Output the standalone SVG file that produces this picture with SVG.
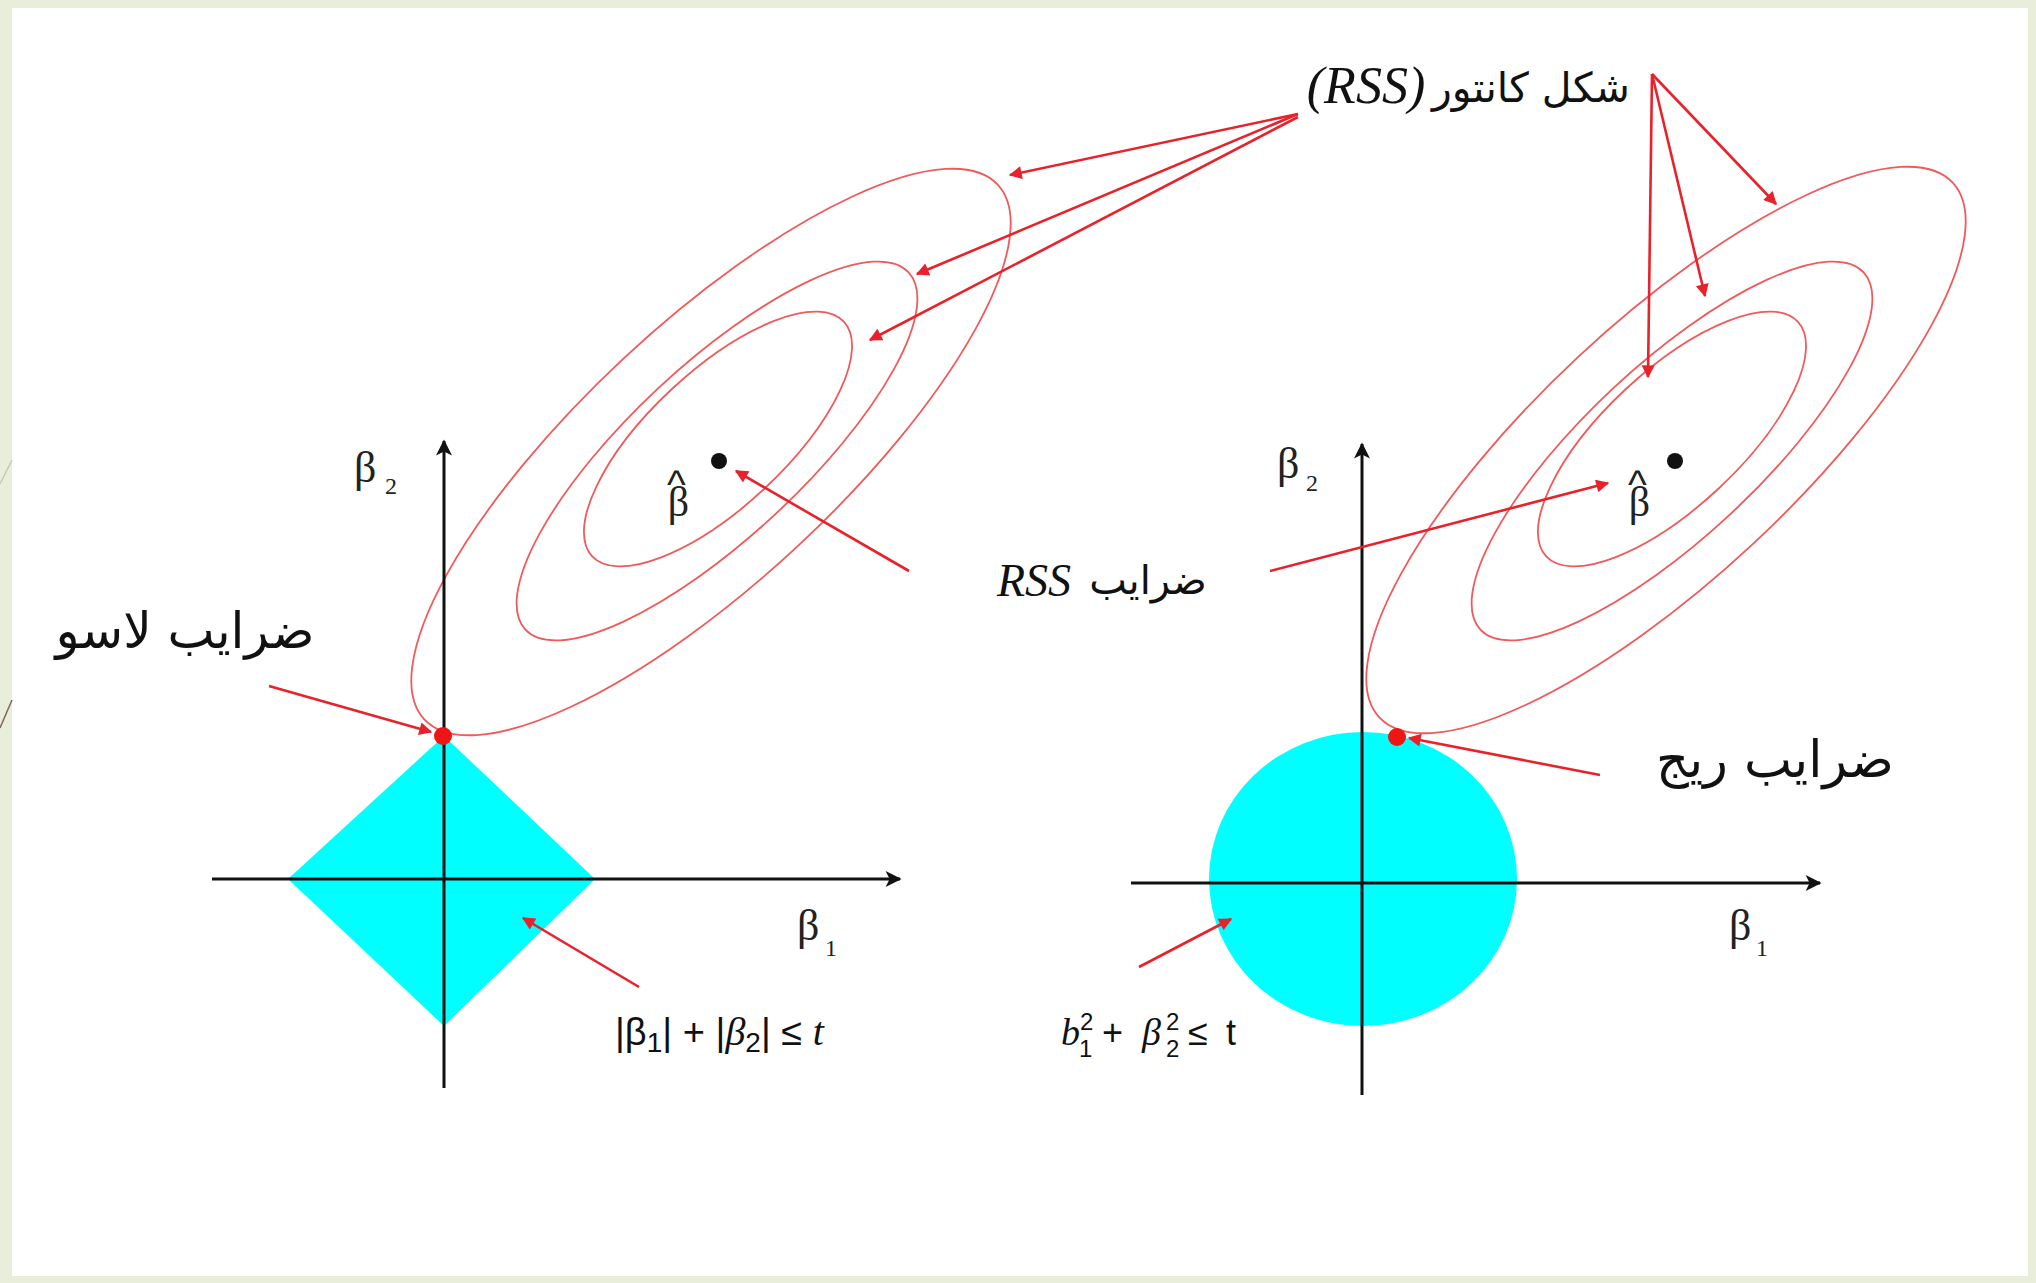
<svg xmlns="http://www.w3.org/2000/svg" width="2036" height="1283" viewBox="0 0 2036 1283">
<style>
.ell{fill:none;stroke:#f05a5a;stroke-width:1.8}
.ax{stroke:#111;stroke-width:3;fill:none}
.ar{stroke:#e8222a;stroke-width:2.6;fill:none}
.ara{font-family:"DejaVu Sans",sans-serif;fill:#111}
.mi{font-family:"Liberation Serif",serif;font-style:italic;fill:#111}
.bt{font-family:"Liberation Serif",serif;fill:#222}
.hat{font-family:"Liberation Sans",sans-serif}
.fm{font-family:"Liberation Sans",sans-serif;fill:#111}
</style>
<defs>
<marker id="ra" viewBox="0 0 10 10" refX="9" refY="5" markerWidth="20" markerHeight="13" markerUnits="userSpaceOnUse" orient="auto"><path d="M0,0 L10,5 L0,10 z" fill="#e8222a"/></marker>
<marker id="ka" viewBox="0 0 10 10" refX="9" refY="5" markerWidth="26" markerHeight="16" markerUnits="userSpaceOnUse" orient="auto"><path d="M0,0 L10,5 L0,10 L2.5,5 z" fill="#111"/></marker>
</defs>
<rect x="0" y="0" width="2036" height="1283" fill="#e9eedb"/>
<rect x="12" y="8" width="2016" height="1268" fill="#ffffff"/>
<line x1="0" y1="484" x2="12" y2="460" stroke="#c9c9b8" stroke-width="1.5"/>
<line x1="0" y1="728" x2="12" y2="700" stroke="#7d6c58" stroke-width="1.5"/>

<g id="lasso-region">
<polygon points="444,736 595,879 444,1026 288,879" fill="#00ffff"/>
</g>
<g id="ridge-region">
<ellipse cx="1363" cy="879" rx="154" ry="147" fill="#00ffff"/>
</g>

<g id="left-contours">
<ellipse class="ell" cx="711" cy="452" rx="392" ry="128" transform="rotate(-43 711 452)"/>
<ellipse class="ell" cx="717" cy="451" rx="262" ry="86" transform="rotate(-43 717 451)"/>
<ellipse class="ell" cx="718" cy="439" rx="172" ry="68" transform="rotate(-43 718 439)"/>
</g>
<g id="right-contours">
<ellipse class="ell" cx="1666" cy="450" rx="392" ry="128" transform="rotate(-43 1666 450)"/>
<ellipse class="ell" cx="1672" cy="451" rx="262" ry="86" transform="rotate(-43 1672 451)"/>
<ellipse class="ell" cx="1672" cy="439" rx="172" ry="68" transform="rotate(-43 1672 439)"/>
</g>

<g id="left-axes">
<line class="ax" x1="444" y1="1088" x2="444" y2="441" marker-end="url(#ka)"/>
<line class="ax" x1="212" y1="879" x2="900" y2="879" marker-end="url(#ka)"/>
</g>
<g id="right-axes">
<line class="ax" x1="1362" y1="1095" x2="1362" y2="444" marker-end="url(#ka)"/>
<line class="ax" x1="1131" y1="883" x2="1820" y2="883" marker-end="url(#ka)"/>
</g>

<g id="left-labels">
<text class="bt" x="354" y="482" font-size="44">β</text>
<text class="bt" x="385" y="494" font-size="24">2</text>
<text class="bt" x="797" y="940" font-size="44">β</text>
<text class="bt" x="825" y="956" font-size="24">1</text>
</g>
<g id="right-labels">
<text class="bt" x="1277" y="478" font-size="44">β</text>
<text class="bt" x="1306" y="491" font-size="24">2</text>
<text class="bt" x="1729" y="940" font-size="44">β</text>
<text class="bt" x="1756" y="956" font-size="24">1</text>
</g>

<g id="left-betahat">
<circle cx="719" cy="461" r="8" fill="#111"/>
<text class="bt" x="667" y="516" font-size="42">β<tspan class="hat" dx="-22" dy="-18" font-size="40">^</tspan></text>
</g>
<g id="right-betahat">
<circle cx="1675" cy="461" r="8" fill="#111"/>
<text class="bt" x="1628" y="516" font-size="42">β<tspan class="hat" dx="-22" dy="-18" font-size="40">^</tspan></text>
</g>

<g id="lasso-point"><circle cx="443" cy="736" r="9" fill="#ee1515"/></g>
<g id="ridge-point"><circle cx="1397" cy="737" r="9" fill="#ee1515"/></g>

<g id="title-label">
<text class="ara" x="1531" y="102" font-size="41" text-anchor="middle">شکل کانتور</text>
<text class="mi" x="1366" y="103" font-size="52" text-anchor="middle">(RSS)</text>
</g>
<g id="rss-label">
<text class="ara" x="1148" y="594" font-size="40" text-anchor="middle">ضرایب</text>
<text class="mi" x="1034" y="596" font-size="46" text-anchor="middle">RSS</text>
</g>
<g id="lasso-label">
<text class="ara" x="185" y="648" font-size="50" text-anchor="middle">ضرایب لاسو</text>
</g>
<g id="ridge-label">
<text class="ara" x="1775" y="777" font-size="51" text-anchor="middle">ضرایب ریج</text>
</g>

<g id="lasso-formula">
<text class="fm" x="615" y="1045" font-size="38">|β<tspan dy="7" font-size="28">1</tspan><tspan dy="-7">| + |</tspan><tspan class="mi" font-size="40">β</tspan><tspan dy="7" font-size="28">2</tspan><tspan dy="-7">| ≤ </tspan><tspan class="mi" font-size="40">t</tspan></text>
</g>
<g id="ridge-formula">
<text class="mi" x="1061" y="1045" font-size="38">b</text>
<text class="fm" x="1080" y="1030" font-size="24">2</text>
<text class="fm" x="1079" y="1057" font-size="24">1</text>
<text class="fm" x="1102" y="1045" font-size="36">+</text>
<text class="mi" x="1142" y="1045" font-size="38">β</text>
<text class="fm" x="1166" y="1030" font-size="24">2</text>
<text class="fm" x="1166" y="1057" font-size="24">2</text>
<text class="fm" x="1188" y="1045" font-size="36">≤</text>
<text class="fm" x="1226" y="1045" font-size="36">t</text>
</g>

<g id="connectors">
<line class="ar" x1="1298" y1="114" x2="1010" y2="175" marker-end="url(#ra)"/>
<line class="ar" x1="1298" y1="114" x2="917" y2="274" marker-end="url(#ra)"/>
<line class="ar" x1="1298" y1="117" x2="870" y2="340" marker-end="url(#ra)"/>
<line class="ar" x1="1652" y1="74" x2="1776" y2="204" marker-end="url(#ra)"/>
<line class="ar" x1="1652" y1="74" x2="1705" y2="296" marker-end="url(#ra)"/>
<line class="ar" x1="1652" y1="74" x2="1648" y2="377" marker-end="url(#ra)"/>
<line class="ar" x1="909" y1="571" x2="736" y2="471" marker-end="url(#ra)"/>
<line class="ar" x1="1270" y1="571" x2="1608" y2="483" marker-end="url(#ra)"/>
<line class="ar" x1="269" y1="686" x2="431" y2="732" marker-end="url(#ra)"/>
<line class="ar" x1="1600" y1="775" x2="1409" y2="738" marker-end="url(#ra)"/>
<line class="ar" x1="639" y1="987" x2="523" y2="918" marker-end="url(#ra)"/>
<line class="ar" x1="1139" y1="967" x2="1231" y2="919" marker-end="url(#ra)"/>
</g>
</svg>
